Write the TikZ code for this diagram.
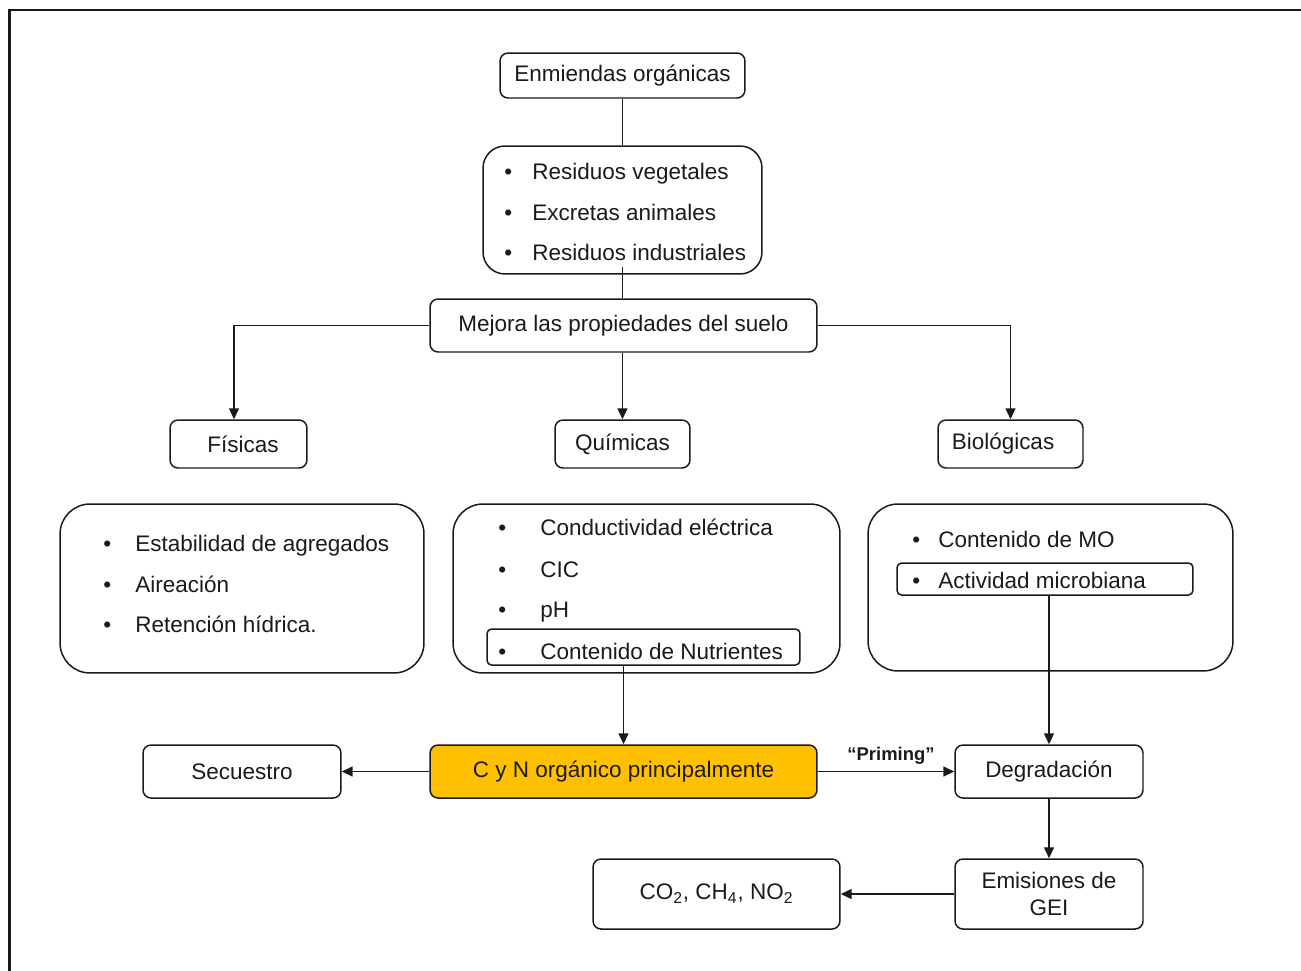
\documentclass[tikz,border=0pt]{standalone}
\usepackage{fontspec}
\setmainfont{Liberation Sans}
\usetikzlibrary{arrows.meta}
\definecolor{lncol}{HTML}{1A1A1A}
\definecolor{gold}{HTML}{FFC000}
\begin{document}
\begin{tikzpicture}[x=0.02cm,y=-0.02cm,
  every node/.style={font=\fontsize{12.8}{15.3}\selectfont, text=lncol},
  box/.style={draw=lncol, line width=0.85pt, rounded corners=0.16cm, inner sep=0pt, align=center},
  listbox/.style={draw=lncol, line width=0.85pt, rounded corners=0.6cm, inner sep=0pt},
  inbox/.style={draw=lncol, line width=0.85pt, rounded corners=0.09cm, inner sep=0pt},
  item/.style={anchor=base west, inner sep=0pt},
  conn/.style={draw=lncol, line width=0.85pt},
  arr/.style={conn, -{Triangle[length=0.22cm,width=0.2cm]}}
]
\useasboundingbox (0,0) rectangle (1301,970);
\clip (0,0) rectangle (1301,970);
\draw[line width=1.4pt, draw=lncol] (9.5,10) rectangle (1340,1010);

% top
\node[box, minimum width=4.9cm, minimum height=0.9cm] (enm) at (622.5,75.5) {Enmiendas orgánicas};
\node[listbox, rounded corners=0.44cm, minimum width=5.58cm, minimum height=2.56cm] (res) at (622.5,210) {};
\node[item] (r1) at (504,179) {\makebox[0.56cm][l]{\textbullet}Residuos vegetales};
\node[item] (r2) at (504,220) {\makebox[0.56cm][l]{\textbullet}Excretas animales};
\node[item] (r3) at (504,260) {\makebox[0.56cm][l]{\textbullet}Residuos industriales};
\node[box, minimum width=7.74cm, minimum height=1.06cm] (mej) at (623.5,325.5) {Mejora las propiedades del suelo};

% categories
\node[box, minimum width=2.74cm, minimum height=0.96cm] (fis) at (238.5,444) {\hspace*{0.18cm}Físicas};
\node[box, minimum width=2.7cm, minimum height=0.96cm] (qui) at (622.5,444) {Químicas};
\node[box, minimum width=2.9cm, minimum height=0.96cm] (bio) at (1010.5,444) {Biológicas\hspace*{0.3cm}};

% list boxes
\node[listbox, minimum width=7.28cm, minimum height=3.38cm] (fbox) at (242,588.5) {};
\node[item] (f1) at (103,551) {\makebox[0.64cm][l]{\textbullet}Estabilidad de agregados};
\node[item] (f2) at (103,592) {\makebox[0.64cm][l]{\textbullet}Aireación};
\node[item] (f3) at (103,632) {\makebox[0.64cm][l]{\textbullet}Retención hídrica.};

\node[listbox, minimum width=7.74cm, minimum height=3.38cm] (qbox) at (646.5,588.5) {};
\node[inbox, minimum width=6.26cm, minimum height=0.72cm] (nut) at (643.5,647) {};
\node[item] (q1) at (498,535) {\makebox[0.84cm][l]{\textbullet}Conductividad eléctrica};
\node[item] (q2) at (498,577) {\makebox[0.84cm][l]{\textbullet}CIC};
\node[item] (q3) at (498,617) {\makebox[0.84cm][l]{\textbullet}pH};
\node[item] (q4) at (498,659) {\makebox[0.84cm][l]{\textbullet}Contenido de Nutrientes};

\node[listbox, minimum width=7.3cm, minimum height=3.34cm] (bbox) at (1050.5,587.5) {};
\node[inbox, minimum width=5.92cm, minimum height=0.64cm] (act) at (1045,579) {};
\node[item] (b1) at (912,547) {\makebox[0.52cm][l]{\textbullet}Contenido de MO};
\node[item] (b2) at (912,588) {\makebox[0.52cm][l]{\textbullet}Actividad microbiana};

% bottom
\node[box, fill=gold, minimum width=7.74cm, minimum height=1.06cm] (cyn) at (623.5,771.5) {C y N orgánico principalmente};
\node[box, minimum width=3.96cm, minimum height=1.06cm] (sec) at (242,771.5) {Secuestro};
\node[box, minimum width=3.76cm, minimum height=1.06cm] (deg) at (1049,771.5) {Degradación};
\node[box, minimum width=3.76cm, minimum height=1.4cm] (emi) at (1049,894) {Emisiones de\\GEI};
\node[box, minimum width=4.94cm, minimum height=1.4cm] (co2) at (716.5,894) {CO\textsubscript{2}, CH\textsubscript{4}, NO\textsubscript{2}};

% connectors
\draw[conn] (enm.south) -- (res.north);
\draw[conn] ([yshift=0.16cm]res.south) -- (res.south |- mej.north);
\draw[arr] (mej.west) -| ([xshift=-0.09cm]fis.north);
\draw[arr] (mej.east) -| (bio.north);
\draw[arr] (qui.north |- mej.south) -- (qui.north);
\draw[arr] (cyn.north |- nut.south) -- (cyn.north);
\draw[arr] (deg.north |- act.south) -- (deg.north);
\draw[arr] (cyn.west) -- (sec.east);
\draw[arr] (cyn.east) -- node[above=0.1cm, font=\fontsize{10.5}{12}\selectfont\bfseries, inner sep=1pt, xshift=0.1cm] (prim) {“Priming”} (deg.west);
\draw[arr] (deg.south) -- (emi.north);
\draw[arr] (emi.west) -- (co2.east);
\end{tikzpicture}
\end{document}
